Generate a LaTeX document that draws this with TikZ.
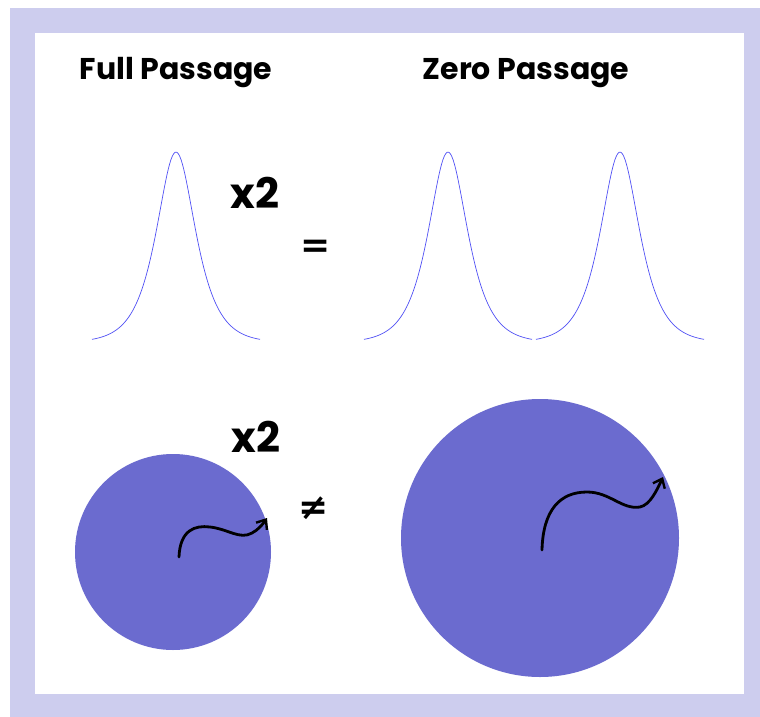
\documentclass[tikz,border=0pt]{standalone}
\usepackage{fontspec}
\setmainfont{Poppins}
\newfontfamily\symfont{DejaVu Sans}
\usetikzlibrary{arrows.meta}
\definecolor{frame}{HTML}{CDCDEE}
\definecolor{disk}{HTML}{6B6BCF}
\definecolor{curve}{HTML}{5050F5}
\tikzset{
  title/.style={font=\fontsize{30}{34}\selectfont\bfseries, inner sep=0pt},
  mult/.style={font=\fontsize{42}{46}\selectfont\bfseries, inner sep=0pt},
  rel/.style={font=\symfont\fontsize{36}{40}\selectfont\bfseries, inner sep=0pt},
  peak/.style={draw=curve, line width=0.7pt},
  walk/.style={draw=black, line width=2.8pt, line cap=round, -{Straight Barb[length=8pt,width=13pt,line width=2.4pt]}},
}
\begin{document}
\begin{tikzpicture}[x=1pt,y=-1pt]
\useasboundingbox (0,0) rectangle (760,717);
\fill[frame] (10,8) rectangle (760,717);
\fill[white] (35,33) rectangle (744,694);
\node[title] (full) at (176,73) {Full Passage};
\node[title] (zero) at (526,73) {Zero Passage};
\node[mult] (xa) at (255,193) {x2};
\node[rel] (eq) at (316,249) {=};
\node[mult] (xb) at (256,437) {x2};
\node[rel] (ne) at (314,508) {≠};
\foreach \c in {176,448,620}{
  \draw[peak] plot[domain=-84:84, samples=120, smooth] ({\c+\x}, {340 - 188*((1/cosh(\x/17.5)) - 0.013)/0.987});
}
\fill[disk] (173,552) circle (98);
\fill[disk] (540,538) circle (139);
\coordinate (as) at (179,557);
\coordinate (ae) at (267,518);
\coordinate (bs) at (542,550);
\coordinate (be) at (663,477);
\draw[walk] (as) .. controls (180,530) and (195,525) .. (210,527) .. controls (228,529) and (240,540) .. (252,533) .. controls (258,530) and (263,524) .. (ae);
\draw[walk] (bs) .. controls (543,510) and (560,492) .. (587,492) .. controls (610,492) and (622,510) .. (640,507) .. controls (650,505) and (657,490) .. (be);
\end{tikzpicture}
\end{document}
